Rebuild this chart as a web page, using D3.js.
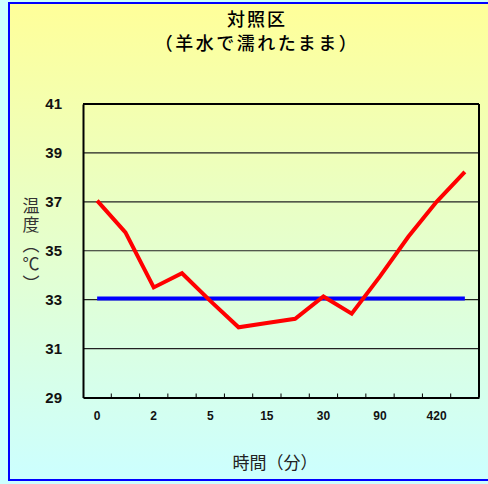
<!DOCTYPE html>
<html><head><meta charset="utf-8">
<script src="https://cdn.jsdelivr.net/npm/d3@7"></script>
<style>body{margin:0;background:#ccffff;}svg{display:block;}</style>
</head><body>
<svg id="c" width="488" height="484"></svg>
<script>
const categories = ["0","1","2","3","5","10","15","20","30","60","90","180","420","1440"];
const tickLabels = ["0","","2","","5","","15","","30","","90","","420",""];
const controlTemp = [37.05, 35.75, 33.5, 34.08, 32.95, 31.87, 32.05, 32.22, 33.13, 32.43, 33.95, 35.57, 37.0, 38.22];
const referenceTemp = [33.05, 33.05, 33.05, 33.05, 33.05, 33.05, 33.05, 33.05, 33.05, 33.05, 33.05, 33.05, 33.05, 33.05];
const yTicks = [29, 31, 33, 35, 37, 39, 41];

const svg = d3.select("#c");
const defs = svg.append("defs");
const g = defs.append("linearGradient").attr("id","bg").attr("x1",0).attr("y1",0).attr("x2",0).attr("y2",1);
g.append("stop").attr("offset","0%").attr("stop-color","#ffff99");
g.append("stop").attr("offset","100%").attr("stop-color","#ccffff");

svg.append("rect").attr("x",0).attr("y",0).attr("width",488).attr("height",484).attr("fill","#ccffff");
svg.append("rect").attr("x",9).attr("y",3).attr("width",481).attr("height",477)
  .attr("fill","url(#bg)").attr("stroke","#0000ff").attr("stroke-width",2);

const L=83, R=479, T=104, B=397.5;
const x = d3.scaleBand().domain(categories).range([L,R]);
const y = d3.scaleLinear().domain([29,41]).range([B,T]);
const font = "'Liberation Sans', Arial, sans-serif";
const jfont = "'Noto Sans CJK JP', sans-serif";

// gridlines
svg.append("g").selectAll("line").data(yTicks.filter(d=>d>29)).join("line")
  .attr("x1",L).attr("x2",R).attr("y1",d=>y(d)).attr("y2",d=>y(d))
  .attr("stroke","#222").attr("stroke-width",1.2);

// axes
const yAxis = svg.append("g").attr("transform",`translate(${L},0)`)
  .call(d3.axisLeft(y).tickValues(yTicks).tickSize(0).tickPadding(21).tickFormat(d3.format("d")));
yAxis.select(".domain").attr("stroke","#000").attr("stroke-width",2);
yAxis.selectAll("text").attr("font-family",font).attr("font-size",15).attr("font-weight","bold").attr("fill","#111");

const xAxis = svg.append("g").attr("transform",`translate(0,${B})`)
  .call(d3.axisBottom(x).tickSize(0).tickPadding(14).tickFormat((d,i)=>tickLabels[i]));
xAxis.select(".domain").attr("stroke","#000").attr("stroke-width",2);
xAxis.selectAll("text").attr("font-family",font).attr("font-size",12).attr("font-weight","bold").attr("fill","#111");
// inner tick marks at band boundaries
svg.append("g").selectAll("line").data(categories.slice(1)).join("line")
  .attr("x1",d=>x(d)).attr("x2",d=>x(d)).attr("y1",B).attr("y2",B-4)
  .attr("stroke","#000").attr("stroke-width",1);
// frame of plot
svg.append("line").attr("x1",R).attr("x2",R).attr("y1",T).attr("y2",B).attr("stroke","#000").attr("stroke-width",2);
svg.append("line").attr("x1",L).attr("x2",R).attr("y1",T).attr("y2",T).attr("stroke","#000").attr("stroke-width",2);

const line = d3.line().x((d,i)=>x(categories[i])+x.bandwidth()/2).y(d=>y(d));
svg.append("path").datum(referenceTemp).attr("d",line).attr("fill","none").attr("stroke","#0000ff").attr("stroke-width",4);
svg.append("path").datum(controlTemp).attr("d",line).attr("fill","none").attr("stroke","#ff0000").attr("stroke-width",4).attr("stroke-linejoin","miter");

// titles
svg.append("text").attr("x",257).attr("y",26).attr("text-anchor","middle").attr("font-family",jfont).attr("font-size",18).attr("font-weight",500).attr("letter-spacing",2).attr("fill","#000").text("対照区");
svg.append("text").attr("x",257).attr("y",50).attr("text-anchor","middle").attr("font-family",jfont).attr("font-size",18).attr("font-weight",500).attr("letter-spacing",2.5).attr("fill","#000").text("（羊水で濡れたまま）");
svg.append("text").attr("x",275).attr("y",469).attr("text-anchor","middle").attr("font-family",jfont).attr("font-size",17).attr("fill","#222").text("時間（分）");

// vertical y title
svg.append("text").attr("x",31).attr("y",197)
  .style("writing-mode","vertical-rl").style("text-orientation","mixed")
  .attr("font-family",jfont).attr("font-size",17).attr("letter-spacing",2.5).attr("fill","#333")
  .text("温度（℃）");
</script>
</body></html>
